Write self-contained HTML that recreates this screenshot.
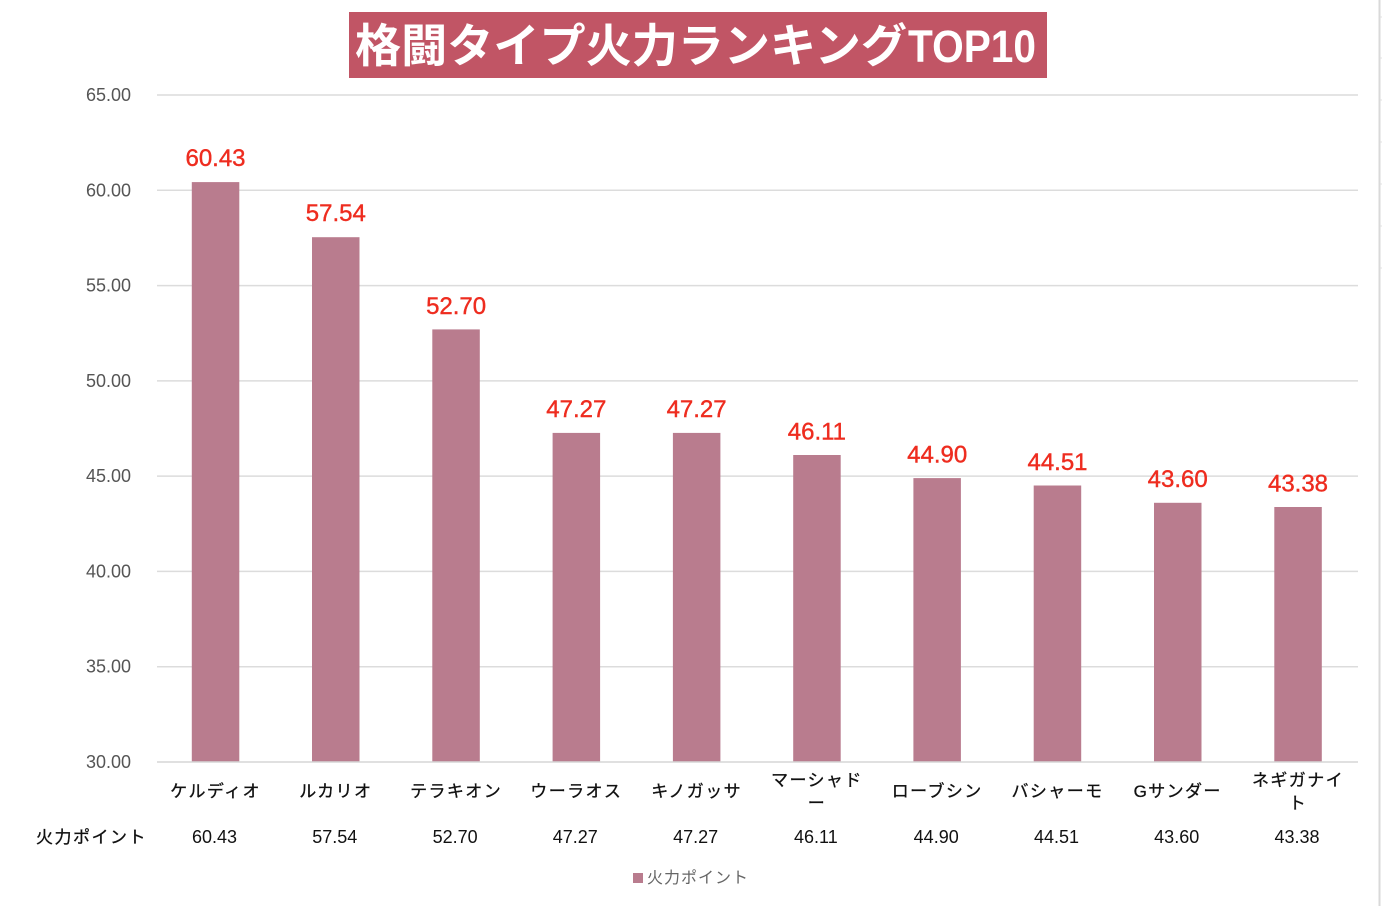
<!DOCTYPE html>
<html><head><meta charset="utf-8"><style>
html,body{margin:0;padding:0;background:#fff;}
svg{display:block;}
</style></head><body>
<svg width="1382" height="906" viewBox="0 0 1382 906" xmlns="http://www.w3.org/2000/svg">
<rect x="0" y="0" width="1382" height="906" fill="#fff"/>
<!-- right edge sheet line -->
<rect x="1378.5" y="0" width="2" height="906" fill="#d9d9d9"/>
<g stroke="#e0e0e0" stroke-width="1">
<line x1="1380" y1="17" x2="1382" y2="17"/><line x1="1380" y1="58" x2="1382" y2="58"/><line x1="1380" y1="100" x2="1382" y2="100"/><line x1="1380" y1="142" x2="1382" y2="142"/><line x1="1380" y1="184" x2="1382" y2="184"/><line x1="1380" y1="226" x2="1382" y2="226"/><line x1="1380" y1="268" x2="1382" y2="268"/>
</g>
<!-- title -->
<rect x="349" y="12" width="698" height="66" fill="#c15565"/>
<text x="355" y="62" fill="#fff" font-family="'Liberation Sans','Noto Sans CJK JP',sans-serif" font-weight="bold" font-size="46" textLength="552" lengthAdjust="spacingAndGlyphs">格闘タイプ火力ランキング</text>
<text x="908" y="62" fill="#fff" font-family="'Liberation Sans',sans-serif" font-weight="bold" font-size="45" textLength="128" lengthAdjust="spacingAndGlyphs">TOP10</text>
<!-- gridlines -->
<g stroke="#dcdcdc" stroke-width="1.5">
<line x1="157" y1="95" x2="1358" y2="95"/>
<line x1="157" y1="190.3" x2="1358" y2="190.3"/>
<line x1="157" y1="285.6" x2="1358" y2="285.6"/>
<line x1="157" y1="380.9" x2="1358" y2="380.9"/>
<line x1="157" y1="476.1" x2="1358" y2="476.1"/>
<line x1="157" y1="571.4" x2="1358" y2="571.4"/>
<line x1="157" y1="666.7" x2="1358" y2="666.7"/>
</g>
<!-- y labels -->
<g font-family="'Liberation Sans',sans-serif" font-size="18" fill="#555" text-anchor="end">
<text x="131" y="101">65.00</text>
<text x="131" y="196.3">60.00</text>
<text x="131" y="291.6">55.00</text>
<text x="131" y="386.9">50.00</text>
<text x="131" y="482.1">45.00</text>
<text x="131" y="577.4">40.00</text>
<text x="131" y="672.7">35.00</text>
<text x="131" y="768">30.00</text>
</g>
<!-- bars -->
<g fill="#b97c8e">
<rect x="191.8" y="182.1" width="47.5" height="579.9"/>
<rect x="312.0" y="237.2" width="47.5" height="524.8"/>
<rect x="432.3" y="329.4" width="47.5" height="432.6"/>
<rect x="552.6" y="432.9" width="47.5" height="329.1"/>
<rect x="672.9" y="432.9" width="47.5" height="329.1"/>
<rect x="793.2" y="455.0" width="47.5" height="307.0"/>
<rect x="913.4" y="478.1" width="47.5" height="283.9"/>
<rect x="1033.7" y="485.5" width="47.5" height="276.5"/>
<rect x="1154.0" y="502.8" width="47.5" height="259.2"/>
<rect x="1274.3" y="507.0" width="47.5" height="255.0"/>
</g>
<line x1="157" y1="762" x2="1358" y2="762" stroke="#d6d6d6" stroke-width="1.5"/>
<!-- data labels -->
<g font-family="'Liberation Sans',sans-serif" font-size="24" fill="#ee2c1f" stroke="#ee2c1f" stroke-width="0.4" text-anchor="middle">
<text x="215.5" y="166">60.43</text>
<text x="335.8" y="221">57.54</text>
<text x="456.1" y="314">52.70</text>
<text x="576.3" y="417">47.27</text>
<text x="696.6" y="417">47.27</text>
<text x="816.9" y="439.5">46.11</text>
<text x="937.2" y="462.5">44.90</text>
<text x="1057.5" y="470">44.51</text>
<text x="1177.7" y="487">43.60</text>
<text x="1298.0" y="491.5">43.38</text>
</g>
<!-- categories -->
<g font-family="'Liberation Sans','Noto Sans CJK JP',sans-serif" font-size="17" fill="#111" stroke="#111" stroke-width="0.3" text-anchor="middle" letter-spacing="1.4">
<text x="215.5" y="797">ケルディオ</text>
<text x="335.8" y="797">ルカリオ</text>
<text x="456.1" y="797">テラキオン</text>
<text x="576.3" y="797">ウーラオス</text>
<text x="696.6" y="797">キノガッサ</text>
<text x="816.9" y="786">マーシャド</text>
<text x="816.9" y="809">ー</text>
<text x="937.2" y="797">ローブシン</text>
<text x="1057.5" y="797">バシャーモ</text>
<text x="1177.7" y="797">Gサンダー</text>
<text x="1298.0" y="786">ネギガナイ</text>
<text x="1298.0" y="809">ト</text>
</g>
<!-- data table -->
<text x="36" y="843" font-family="'Liberation Sans','Noto Sans CJK JP',sans-serif" font-size="17" fill="#111" stroke="#111" stroke-width="0.3" letter-spacing="1.5">火力ポイント</text>
<g font-family="'Liberation Sans',sans-serif" font-size="18" fill="#111" text-anchor="middle">
<text x="214.5" y="843">60.43</text>
<text x="334.8" y="843">57.54</text>
<text x="455.1" y="843">52.70</text>
<text x="575.3" y="843">47.27</text>
<text x="695.6" y="843">47.27</text>
<text x="815.9" y="843">46.11</text>
<text x="936.2" y="843">44.90</text>
<text x="1056.5" y="843">44.51</text>
<text x="1176.7" y="843">43.60</text>
<text x="1297.0" y="843">43.38</text>
</g>
<!-- legend -->
<rect x="633" y="873" width="10" height="10" fill="#b97c8e"/>
<text x="647" y="883" font-family="'Liberation Sans','Noto Sans CJK JP',sans-serif" font-size="16" fill="#666" letter-spacing="1">火力ポイント</text>
</svg>
</body></html>
